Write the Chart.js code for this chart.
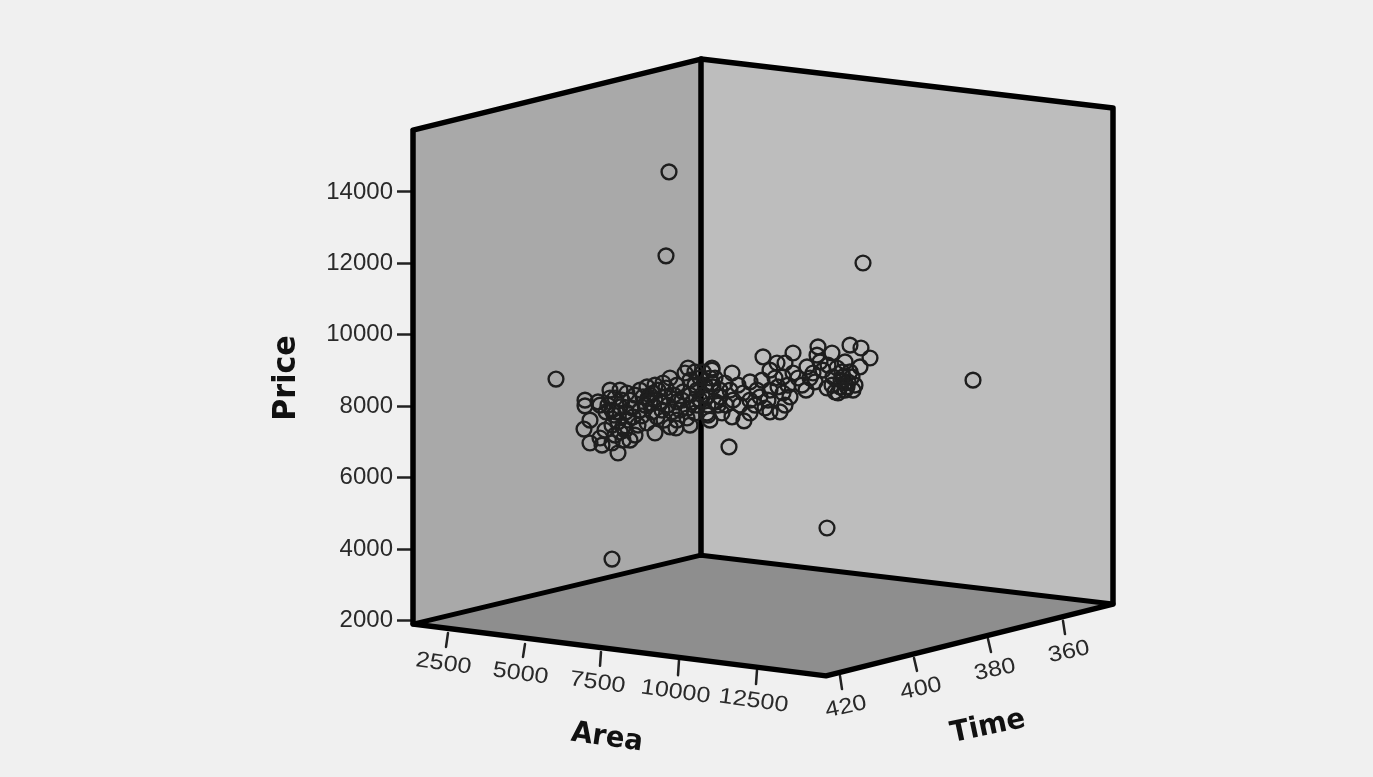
<!DOCTYPE html>
<html>
<head>
<meta charset="utf-8">
<title>Price by Area and Time</title>
<script src="https://cdn.jsdelivr.net/npm/chart.js@4"></script>
<style>
    html, body { margin: 0; padding: 0; background: #f0f0f0; overflow: hidden; }
    canvas { display: block; filter: blur(0.5px); }
</style>
</head>
<body>
<canvas id="cube" width="1373" height="777"></canvas>
<script>
// The cube is a projection, so "across" is the position along the sheet
// and the price column is read off the printed Price axis.

const priceTicks = [2000, 4000, 6000, 8000, 10000, 12000, 14000];
const areaLabels = ['2500', '5000', '7500', '10000', '12500'];
const timeLabels = ['420', '400', '380', '360'];

const pointAcross = [
    585, 585, 598, 610, 627, 620, 590, 584, 590, 602, 605, 618, 623, 615, 608, 620,
    623, 635, 655, 647, 643, 633, 650, 663, 670, 685, 688, 665, 677, 683, 657, 670,
    687, 677, 695, 697, 647, 662, 640, 653, 677, 693, 707, 712, 713, 707, 720, 710,
    612, 620, 628, 618, 625, 630, 635, 615, 622, 645, 650, 655, 648, 660, 668, 672,
    680, 690, 695, 700, 700, 703, 705, 715, 708, 690,
    712, 732, 708, 744, 732, 722, 750, 762, 763, 777, 770, 793, 785, 783, 807, 818,
    817, 832, 850, 861, 870, 860, 845, 855, 838, 827, 845, 843, 848, 847, 815, 806,
    785, 765, 760, 750, 778, 790, 798, 823, 837, 733, 720, 712, 743, 730, 750, 757,
    770, 783, 793, 813, 833, 832, 840, 852,
    606, 612, 600, 614, 626, 632, 638, 642, 652, 658, 666, 674, 682, 688, 664, 676,
    690, 697, 702, 716, 726, 740, 738, 755, 768, 775, 788, 802, 810, 820, 828, 842,
    850, 853, 845, 841, 835, 770, 780, 695, 710, 725, 718, 640, 655, 610, 616, 600,
    612, 630,
    669, 666, 863, 973, 729, 827, 612, 556
];
const pointPrice = [
    8170, 8010, 8120, 8450, 8370, 8450, 7610, 7360, 6970, 6910, 7330, 6690, 7050, 7190, 8030, 7980,
    7420, 7190, 7250, 8540, 8260, 7700, 8090, 8650, 8790, 8930, 9070, 8260, 8120, 8400, 7700, 7420,
    7670, 7610, 7810, 8450, 7530, 7890, 7890, 8370, 8590, 8120, 7810, 9070, 8540, 8260, 8260, 7610,
    7470, 7280, 7610, 7560, 7330, 8170, 8310, 8230, 8170, 8030, 8310, 8170, 8230, 8120, 8030, 7840,
    7890, 8310, 8590, 8170, 8790, 8960, 8590, 8790, 8030, 8730,
    9010, 8930, 7750, 7590, 7700, 7810, 8680, 8730, 9380, 9210, 9010, 9490, 9210, 8820, 9100, 9660,
    9430, 9490, 9710, 9630, 9350, 9100, 9240, 8590, 8370, 8510, 8650, 8820, 8680, 8540, 8680, 8450,
    8030, 7950, 8260, 7810, 8540, 8260, 8790, 9010, 9070, 8170, 8450, 8650, 8370, 8450, 8170, 8450,
    8450, 8370, 8930, 8930, 8820, 8590, 8540, 8820,
    7840, 7890, 8030, 7750, 7840, 7950, 7470, 7730, 7840, 8450, 8510, 8310, 8170, 7950, 7610, 7390,
    7470, 8030, 8310, 8120, 8030, 8030, 8590, 8030, 8170, 8790, 8590, 8590, 8790, 9240, 9150, 8960,
    8960, 8450, 8450, 8730, 8400, 7840, 7840, 8960, 8790, 8650, 8030, 8450, 8590, 8230, 7840, 7110,
    6970, 7050,
    14560, 12210, 12010, 8730, 6860, 4590, 3720, 8760
];

// cube corners
const leftFaceAcross = [413, 701, 701, 413];
const leftFacePrice = [15730, 17720, 3830, 1900];
const rightFaceAcross = [701, 1113, 1113, 701];
const rightFacePrice = [17720, 16350, 2460, 3830];
const floorAcross = [413, 701, 1113, 826];
const floorPrice = [1900, 3830, 2460, 450];
const outlineAcross = [413, 701, 1113, 1113, 826, 413, 413];
const outlinePrice = [15730, 17720, 16350, 2460, 450, 1900, 15730];
const spineAcross = [701, 701];
const spinePrice = [17720, 3830];
const innerFloorAcross = [413, 701, 1113];
const innerFloorPrice = [1900, 3830, 2460];

// axis tick marks along the floor edges
const areaTickAcross = [[448, 446], [525, 523], [601, 600], [679, 678], [757, 756]];
const areaTickPrice = [[1650, 1260], [1340, 980], [1120, 730], [890, 470], [610, 220]];
const timeTickAcross = [[840, 842], [914, 917], [988, 991], [1063, 1065]];
const timeTickPrice = [[450, 80], [950, 590], [1480, 1120], [1990, 1620]];

const toPoints = (xs, ys) => xs.map((x, i) => ({ x: x, y: ys[i] }));

function edge(xs, ys, width, color) {
    return {
        data: toPoints(xs, ys),
        showLine: true,
        clip: false,
        borderColor: color,
        borderWidth: width,
        borderJoinStyle: 'round',
        borderCapStyle: 'round',
        pointRadius: 0,
        fill: false,
        tension: 0
    };
}

function face(xs, ys, color) {
    return {
        data: toPoints(xs, ys),
        showLine: true,
        clip: false,
        borderWidth: 0,
        borderColor: color,
        backgroundColor: color,
        pointRadius: 0,
        fill: 'shape',
        tension: 0
    };
}

const tickSets = [];
areaTickAcross.forEach((xs, i) => tickSets.push(edge(xs, areaTickPrice[i], 2.5, '#222222')));
timeTickAcross.forEach((xs, i) => tickSets.push(edge(xs, timeTickPrice[i], 2.5, '#222222')));

// rotated tick labels and axis titles
const tiltedText = {
    id: 'tiltedText',
    afterDraw(chart) {
        const { ctx, scales } = chart;

        function put(text, x, y, angle, font, color, stretch) {
            ctx.save();
            ctx.translate(x, y);
            ctx.rotate(angle * Math.PI / 180);
            ctx.scale(stretch, 1);
            ctx.font = font;
            ctx.fillStyle = color;
            ctx.textAlign = 'center';
            ctx.textBaseline = 'middle';
            ctx.fillText(text, 0, 0);
            ctx.restore();
        }

        const tickFont = '22px "Liberation Sans"';
        areaLabels.forEach((label, i) => {
            const x = scales.x.getPixelForValue(areaTickAcross[i][1]);
            const y = scales.y.getPixelForValue(areaTickPrice[i][1]);
            put(label, x - 2.5, y + 17, 8, tickFont, '#2a2a2a', 1.14);
        });
        timeLabels.forEach((label, i) => {
            const x = scales.x.getPixelForValue(timeTickAcross[i][1]);
            const y = scales.y.getPixelForValue(timeTickPrice[i][1]);
            put(label, x + 4, y + 18, -12, tickFont, '#2a2a2a', 1.14);
        });

        put('Area', 607, 738, 8, 'bold 29px "DejaVu Sans"', '#111111', 0.95);
        put('Time', 988, 727, -12, 'bold 29px "DejaVu Sans"', '#111111', 0.95);
        put('Price', 287, 378, -90, 'bold 32px "DejaVu Sans"', '#111111', 0.94);
    }
};

new Chart(document.getElementById('cube').getContext('2d'), {
    type: 'scatter',
    data: {
        datasets: [
            {
                data: toPoints(pointAcross, pointPrice),
                borderColor: '#1e1e1e',
                borderWidth: 2.4,
                backgroundColor: 'rgba(0,0,0,0)',
                pointRadius: 7.4,
                showLine: false,
                clip: false
            },
            edge(outlineAcross, outlinePrice, 5.5, '#000000'),
            edge(spineAcross, spinePrice, 5.5, '#000000'),
            edge(innerFloorAcross, innerFloorPrice, 5, '#000000'),
            ...tickSets,
            face(floorAcross, floorPrice, '#8e8e8e'),
            face(rightFaceAcross, rightFacePrice, '#bdbdbd'),
            face(leftFaceAcross, leftFacePrice, '#a9a9a9')
        ]
    },
    options: {
        responsive: false,
        animation: false,
        devicePixelRatio: 1,
        layout: { padding: 0, autoPadding: false },
        plugins: {
            legend: { display: false },
            tooltip: { enabled: false }
        },
        scales: {
            x: {
                type: 'linear',
                display: false,
                min: 413,
                max: 1373
            },
            y: {
                type: 'linear',
                position: 'left',
                min: -2382,
                max: 19374,
                afterBuildTicks: (scale) => {
                    scale.ticks = priceTicks.map((v) => ({ value: v }));
                },
                // axis takes everything left of the cube, no overhang padding
                afterFit: (scale) => {
                    scale.width = 413;
                    scale.paddingTop = 0;
                    scale.paddingBottom = 0;
                },
                border: { display: false },
                grid: {
                    drawOnChartArea: false,
                    drawTicks: true,
                    tickLength: 16,
                    tickColor: '#222222',
                    tickWidth: 2.5
                },
                ticks: {
                    color: '#2a2a2a',
                    padding: 4,
                    font: { family: '"Liberation Sans"', size: 24 },
                    callback: (v) => String(v)
                }
            }
        }
    },
    plugins: [tiltedText]
});
</script>
</body>
</html>
